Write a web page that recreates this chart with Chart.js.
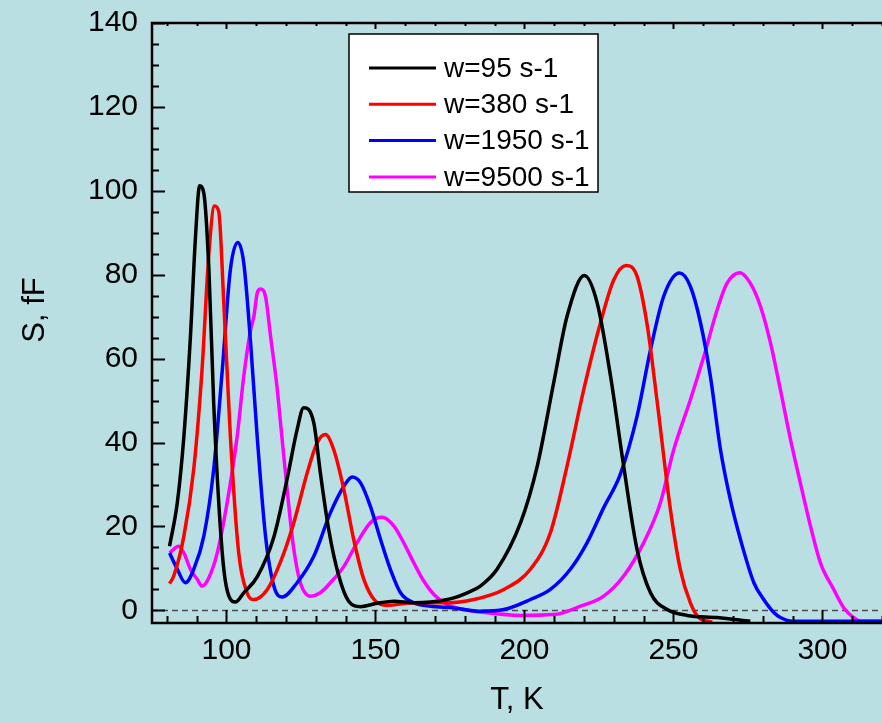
<!DOCTYPE html>
<html>
<head>
<meta charset="utf-8">
<script src="https://cdn.jsdelivr.net/npm/chart.js@4/dist/chart.umd.min.js"></script>
<style>
  html, body { margin: 0; padding: 0; background: #b9dfe2; }
  #wrap { width: 882px; height: 723px; }
</style>
</head>
<body>
<div id="wrap"><canvas id="chart" width="882" height="723"></canvas></div>
<script>
// Series labels and colours
const seriesLabels = ['w=95 s-1', 'w=380 s-1', 'w=1950 s-1', 'w=9500 s-1'];
const seriesColors = ['#000000', '#ff0000', '#0000ff', '#ff00ff'];

// w=95 s-1
const tBlack = [80.9, 83.5, 85.7, 87.9, 89.6, 91.0, 92.4, 94.1, 95.7, 97.4, 99.1, 100.8, 103.0, 105.8, 110.3, 115.9, 120.4, 123.7, 125.9, 129.3, 131.5, 134.3, 137.7, 141.0, 145.0, 150.6, 156.2, 162.9, 168.5, 176.3, 180.8, 185.2, 190.8, 198.7, 204.3, 209.8, 214.3, 220.1, 224.4, 228.9, 233.3, 237.8, 242.3, 247.9, 254.6, 264.7, 275.8];
const sBlack = [15.3, 25.7, 41.5, 65.3, 89.1, 101.2, 99.4, 81.2, 49.5, 25.7, 9.8, 3.4, 2.0, 4.2, 8.0, 17.5, 31.5, 43.1, 48.3, 44.7, 32.8, 19.3, 8.2, 2.2, 0.9, 1.7, 2.2, 1.8, 2.0, 3.0, 4.2, 5.8, 9.8, 20.9, 34.4, 54.2, 70.1, 79.8, 73.3, 55.8, 34.4, 14.5, 4.2, 0.2, -1.2, -1.7, -2.6];

// w=380 s-1
const tRed = [80.9, 82.3, 85.7, 89.0, 91.8, 94.1, 96.0, 97.4, 99.1, 101.3, 104.1, 106.9, 109.2, 113.7, 118.1, 122.6, 127.1, 130.4, 133.2, 136.0, 139.4, 142.7, 146.1, 150.0, 153.9, 162.9, 174.0, 183.0, 193.1, 202.0, 208.7, 214.3, 219.9, 225.5, 230.0, 234.1, 237.8, 241.2, 244.5, 249.0, 252.3, 255.7, 258.5, 263.0];
const sRed = [6.4, 8.2, 17.7, 33.6, 57.4, 85.2, 96.4, 95.1, 73.3, 41.5, 13.7, 4.2, 2.6, 5.0, 11.5, 20.9, 32.8, 39.9, 41.9, 38.3, 28.8, 16.9, 7.4, 2.2, 1.2, 1.8, 1.8, 2.6, 5.0, 9.8, 18.5, 34.4, 52.6, 68.5, 78.8, 82.2, 79.6, 68.0, 50.0, 24.0, 9.8, 1.8, -1.7, -2.8];

// w=1950 s-1
const tBlue = [80.9, 83.5, 86.2, 89.0, 92.4, 95.7, 98.6, 101.3, 103.8, 105.8, 108.1, 110.3, 113.1, 115.9, 118.7, 123.7, 129.3, 134.9, 139.4, 142.2, 145.0, 148.3, 151.7, 155.0, 158.4, 162.9, 168.5, 176.3, 185.2, 193.1, 202.0, 208.7, 215.4, 221.0, 226.6, 232.2, 237.8, 242.3, 246.8, 252.1, 255.7, 259.1, 262.4, 265.8, 269.1, 272.5, 277.0, 280.3, 283.7, 285.9, 290.0, 300.0, 310.0, 320.0];
const sBlue = [13.7, 9.8, 6.6, 9.8, 17.7, 33.6, 57.4, 81.2, 87.7, 82.8, 63.7, 41.5, 17.7, 5.8, 3.2, 6.6, 12.9, 23.3, 29.6, 31.8, 30.4, 24.8, 16.9, 9.8, 4.2, 1.8, 1.0, 0.6, -0.2, 0.2, 2.6, 5.0, 9.8, 16.1, 24.5, 32.5, 46.3, 62.1, 75.0, 80.4, 77.2, 68.5, 55.8, 38.3, 26.4, 16.9, 6.6, 2.6, -0.5, -1.7, -2.6, -2.6, -2.6, -2.6];

// w=9500 s-1
const tMagenta = [80.9, 84.0, 85.7, 87.9, 90.2, 91.8, 94.1, 96.9, 100.2, 103.6, 105.8, 108.1, 109.2, 110.3, 111.4, 113.1, 114.8, 117.0, 118.1, 119.2, 120.4, 121.5, 122.6, 124.8, 128.2, 131.5, 134.9, 139.4, 143.8, 148.3, 152.2, 156.2, 159.5, 162.9, 166.2, 169.6, 174.0, 179.6, 185.2, 198.7, 209.8, 218.8, 226.6, 233.3, 240.0, 245.6, 250.1, 255.7, 260.2, 264.7, 268.0, 272.3, 275.8, 279.2, 282.6, 285.9, 289.3, 292.6, 296.0, 299.3, 303.8, 307.2, 310.5, 313.0, 320.0];
const sMagenta = [13.7, 15.3, 13.7, 9.8, 7.4, 5.8, 7.8, 13.7, 25.6, 41.5, 55.8, 66.9, 70.1, 75.6, 76.6, 74.8, 65.3, 53.0, 45.0, 37.0, 28.5, 21.0, 14.5, 6.6, 3.4, 4.2, 6.6, 10.5, 16.1, 20.9, 22.2, 20.1, 16.1, 11.3, 7.0, 3.8, 1.4, 0.2, -0.4, -1.2, -1.0, 1.0, 3.4, 8.2, 16.1, 25.6, 38.3, 50.2, 60.5, 71.7, 78.0, 80.5, 78.0, 72.5, 63.7, 52.6, 40.7, 30.4, 20.1, 11.4, 5.0, 0.6, -1.7, -2.6, -2.6];

// Axis ticks
const xLabelTicks = [100, 150, 200, 250, 300];
const yLabelTicks = [0, 20, 40, 60, 80, 100, 120, 140];
const xMinorStep = 10;
const yMinorStep = 5;

const FONT = '"Liberation Sans", Arial, Helvetica, sans-serif';

function toPoints(xs, ys) {
    return xs.map((x, i) => ({ x: x, y: ys[i] }));
}

const seriesT = [tBlack, tRed, tBlue, tMagenta];
const seriesS = [sBlack, sRed, sBlue, sMagenta];

// Frame, inward ticks, zero line, legend and y title
const framePlugin = {
    id: 'frame',
    beforeDatasetsDraw(chart) {
        const { ctx, chartArea } = chart;
        const y0 = chart.scales.y.getPixelForValue(0);
        ctx.save();
        ctx.strokeStyle = '#4a4a4a';
        ctx.lineWidth = 1.5;
        ctx.setLineDash([6, 4]);
        ctx.beginPath();
        ctx.moveTo(chartArea.left, y0);
        ctx.lineTo(chartArea.right, y0);
        ctx.stroke();
        ctx.restore();
    },
    afterDraw(chart) {
        const { ctx, chartArea } = chart;
        const xs = chart.scales.x;
        const ys = chart.scales.y;
        const L = chartArea.left, R = chartArea.right, T = chartArea.top, B = chartArea.bottom;
        ctx.save();
        ctx.strokeStyle = '#000';
        ctx.lineWidth = 2.5;
        ctx.setLineDash([]);
        ctx.beginPath();
        ctx.moveTo(R, T);
        ctx.lineTo(L, T);
        ctx.lineTo(L, B);
        ctx.lineTo(R, B);
        ctx.stroke();

        // x ticks (bottom and top)
        ctx.lineWidth = 2;
        ctx.beginPath();
        for (let v = 80; v <= xs.max; v += xMinorStep) {
            const px = Math.round(xs.getPixelForValue(v)) + 0.5;
            const major = v % 50 === 0;
            ctx.moveTo(px, B);
            ctx.lineTo(px, B - (major ? 13 : 7));
            ctx.moveTo(px, T);
            ctx.lineTo(px, T + (major ? 6 : 3));
        }
        // y ticks (left)
        for (let v = 0; v <= ys.max; v += yMinorStep) {
            const py = Math.round(ys.getPixelForValue(v)) + 0.5;
            const major = v % 20 === 0;
            ctx.moveTo(L, py);
            ctx.lineTo(L + (major ? 13 : 7), py);
        }
        ctx.stroke();

        // legend
        const bx = 349, by = 34, bw = 249, bh = 158;
        ctx.fillStyle = '#ffffff';
        ctx.fillRect(bx, by, bw, bh);
        ctx.lineWidth = 1.5;
        ctx.strokeStyle = '#000';
        ctx.strokeRect(bx, by, bw, bh);
        ctx.font = '28px ' + FONT;
        ctx.textAlign = 'left';
        ctx.textBaseline = 'middle';
        seriesLabels.forEach((label, i) => {
            const ry = 68 + i * 36.3;
            ctx.strokeStyle = seriesColors[i];
            ctx.lineWidth = 3;
            ctx.beginPath();
            ctx.moveTo(369, ry);
            ctx.lineTo(436, ry);
            ctx.stroke();
            ctx.fillStyle = '#000';
            ctx.fillText(label, 444, ry + 1);
        });

        // y title
        ctx.translate(35, 310);
        ctx.rotate(-Math.PI / 2);
        ctx.font = '31px ' + FONT;
        ctx.textAlign = 'center';
        ctx.textBaseline = 'middle';
        ctx.fillStyle = '#000';
        ctx.fillText('S, fF', 0, 0);
        ctx.restore();
    }
};

const datasets = seriesLabels.map((label, i) => ({
    label: label,
    data: toPoints(seriesT[i], seriesS[i]),
    borderColor: seriesColors[i],
    backgroundColor: seriesColors[i],
    borderWidth: 3.5,
    pointRadius: 0,
    fill: false,
    cubicInterpolationMode: 'monotone'
}));

new Chart(document.getElementById('chart'), {
    type: 'line',
    data: { datasets: datasets },
    options: {
        responsive: false,
        animation: false,
        layout: { padding: { top: 23, right: 0, left: 0, bottom: 0 } },
        plugins: {
            legend: { display: false },
            tooltip: { enabled: false }
        },
        scales: {
            x: {
                type: 'linear',
                min: 75,
                max: 320,
                grid: { display: false, drawTicks: false },
                border: { display: false },
                afterBuildTicks: scale => {
                    scale.ticks = xLabelTicks.map(v => ({ value: v }));
                },
                afterFit: scale => {
                    scale.height = 100;
                    scale.paddingLeft = 0;
                    scale.paddingRight = 0;
                },
                ticks: {
                    color: '#000',
                    font: { family: FONT, size: 30 },
                    padding: 10,
                    maxRotation: 0
                },
                title: {
                    display: true,
                    text: 'T, K',
                    color: '#000',
                    font: { family: FONT, size: 31 },
                    padding: { top: 0, bottom: 4 }
                }
            },
            y: {
                type: 'linear',
                min: -3,
                max: 140,
                grid: { display: false, drawTicks: false },
                border: { display: false },
                afterBuildTicks: scale => {
                    scale.ticks = yLabelTicks.map(v => ({ value: v }));
                },
                afterFit: scale => {
                    scale.width = 152;
                    scale.paddingTop = 0;
                    scale.paddingBottom = 0;
                },
                ticks: {
                    color: '#000',
                    font: { family: FONT, size: 30 },
                    padding: 14
                }
            }
        }
    },
    plugins: [framePlugin]
});
</script>
</body>
</html>
